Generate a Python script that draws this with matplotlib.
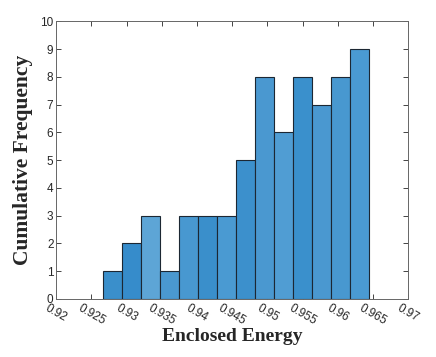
import matplotlib
matplotlib.use("Agg")
import matplotlib.pyplot as plt
import numpy as np

# histogram data
counts = [1, 2, 3, 1, 3, 3, 3, 5, 8, 6, 8, 7, 8, 9]
bin_start = 0.92668
bin_width = 0.0027
bar_colors = ["#3a8fcb", "#368ccb", "#5da5d6", "#4a98d0", "#4898d0", "#3a8fcb", "#4a9ad2",
              "#3c90cc", "#4a98d0", "#509dd3", "#3a90cc", "#4a98d0", "#4898d0", "#4a9ad2"]
xticks = [0.92, 0.925, 0.93, 0.935, 0.94, 0.945, 0.95, 0.955, 0.96, 0.965, 0.97]
xtick_labels = ["0.92", "0.925", "0.93", "0.935", "0.94", "0.945", "0.95", "0.955", "0.96", "0.965", "0.97"]
yticks = list(range(0, 11))

fig = plt.figure(figsize=(4.36, 3.57), dpi=100)
ax = fig.add_axes([0.129, 0.1625, 0.8075, 0.7775])

lefts = bin_start + bin_width * np.arange(len(counts))
ax.bar(lefts, counts, width=bin_width, align="edge", color=bar_colors,
       edgecolor="#1c2733", linewidth=0.8, zorder=2)

ax.set_xlim(0.92, 0.97)
ax.set_ylim(0, 10)
ax.set_xticks(xticks)
ax.set_xticklabels(xtick_labels, rotation=-30, ha="center", va="top")
ax.set_yticks(yticks)

ax.tick_params(direction="in", top=True, right=True, length=3.5, width=0.6,
               labelsize=8.5, colors="#262626", pad=2)
for lab in ax.get_xticklabels() + ax.get_yticklabels():
    lab.set_family("Liberation Sans")
for s in ax.spines.values():
    s.set_color("#666666")
    s.set_linewidth(0.7)

ax.set_xlabel("Enclosed Energy", family="Liberation Serif", weight="bold",
              size=14, color="#262626", labelpad=1)
ax.set_ylabel("Cumulative Frequency", family="Liberation Serif", weight="bold",
              size=15.5, color="#262626", labelpad=5)

fig.savefig("out.png", dpi=100)
